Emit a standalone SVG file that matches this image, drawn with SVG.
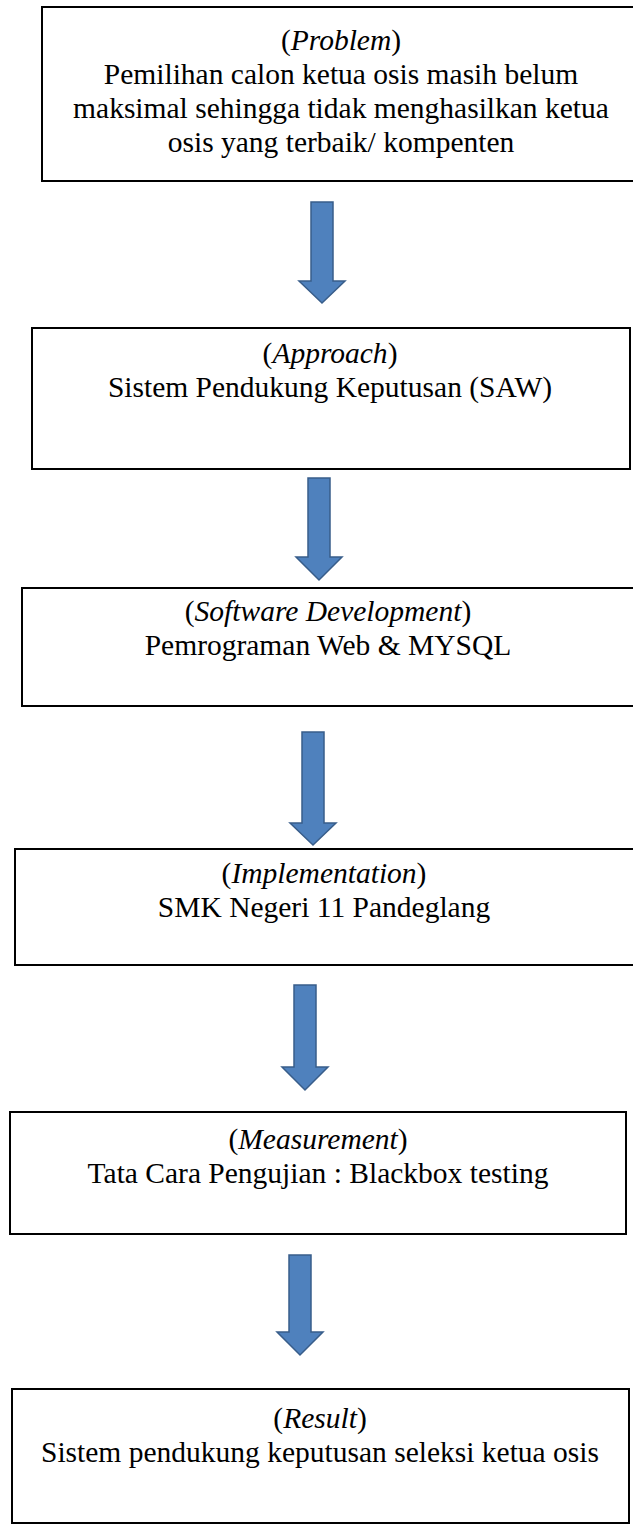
<svg xmlns="http://www.w3.org/2000/svg" width="633" height="1527" viewBox="0 0 633 1527">
  <defs>
    <style>
      .box { fill: #ffffff; stroke: #000000; stroke-width: 2; }
      .arrow { fill: #4f81bd; stroke: #385d8a; stroke-width: 1.5; stroke-linejoin: miter; }
      text { font-family: "Liberation Serif", "Times New Roman", serif; font-size: 29.5px; fill: #000000; text-anchor: middle; }
      .it { font-style: italic; }
    </style>
  </defs>
  <rect width="633" height="1527" fill="#ffffff"/>

  <!-- connectors: block arrows pointing down to the next stage -->
  <g id="connectors">
    <path class="arrow" d="M311,202 H333 V281 H345 L322,303 L299,281 H311 Z"/>
    <path class="arrow" d="M308,478 H330 V557 H342 L319,580 L296,557 H308 Z"/>
    <path class="arrow" d="M302,732 H324 V823 H336 L313,845 L290,823 H302 Z"/>
    <path class="arrow" d="M294,985 H316 V1067 H328 L305,1090 L282,1067 H294 Z"/>
    <path class="arrow" d="M289,1255 H311 V1332 H323 L300,1355 L277,1332 H289 Z"/>
  </g>

  <g id="problem">
    <rect class="box" x="42" y="7" width="593" height="174"/>
    <text x="341" y="50">(<tspan class="it">Problem</tspan>)</text>
    <text x="341" y="84">Pemilihan calon ketua osis masih belum</text>
    <text x="341" y="118">maksimal sehingga tidak menghasilkan ketua</text>
    <text x="341" y="152">osis yang terbaik/ kompenten</text>
  </g>

  <g id="approach">
    <rect class="box" x="32" y="328" width="598" height="141"/>
    <text x="330" y="363">(<tspan class="it">Approach</tspan>)</text>
    <text x="330" y="397">Sistem Pendukung Keputusan (SAW)</text>
  </g>

  <g id="software-development">
    <rect class="box" x="22" y="588" width="613" height="118"/>
    <text x="328" y="621">(<tspan class="it">Software Development</tspan>)</text>
    <text x="328" y="655">Pemrograman Web &amp; MYSQL</text>
  </g>

  <g id="implementation">
    <rect class="box" x="15" y="849" width="620" height="116"/>
    <text x="324" y="883">(<tspan class="it">Implementation</tspan>)</text>
    <text x="324" y="917">SMK Negeri 11 Pandeglang</text>
  </g>

  <g id="measurement">
    <rect class="box" x="10" y="1112" width="616" height="122"/>
    <text x="318" y="1149">(<tspan class="it">Measurement</tspan>)</text>
    <text x="318" y="1183">Tata Cara Pengujian : Blackbox testing</text>
  </g>

  <g id="result">
    <rect class="box" x="12" y="1389" width="617" height="134"/>
    <text x="320" y="1428">(<tspan class="it">Result</tspan>)</text>
    <text x="320" y="1462">Sistem pendukung keputusan seleksi ketua osis</text>
  </g>
</svg>
